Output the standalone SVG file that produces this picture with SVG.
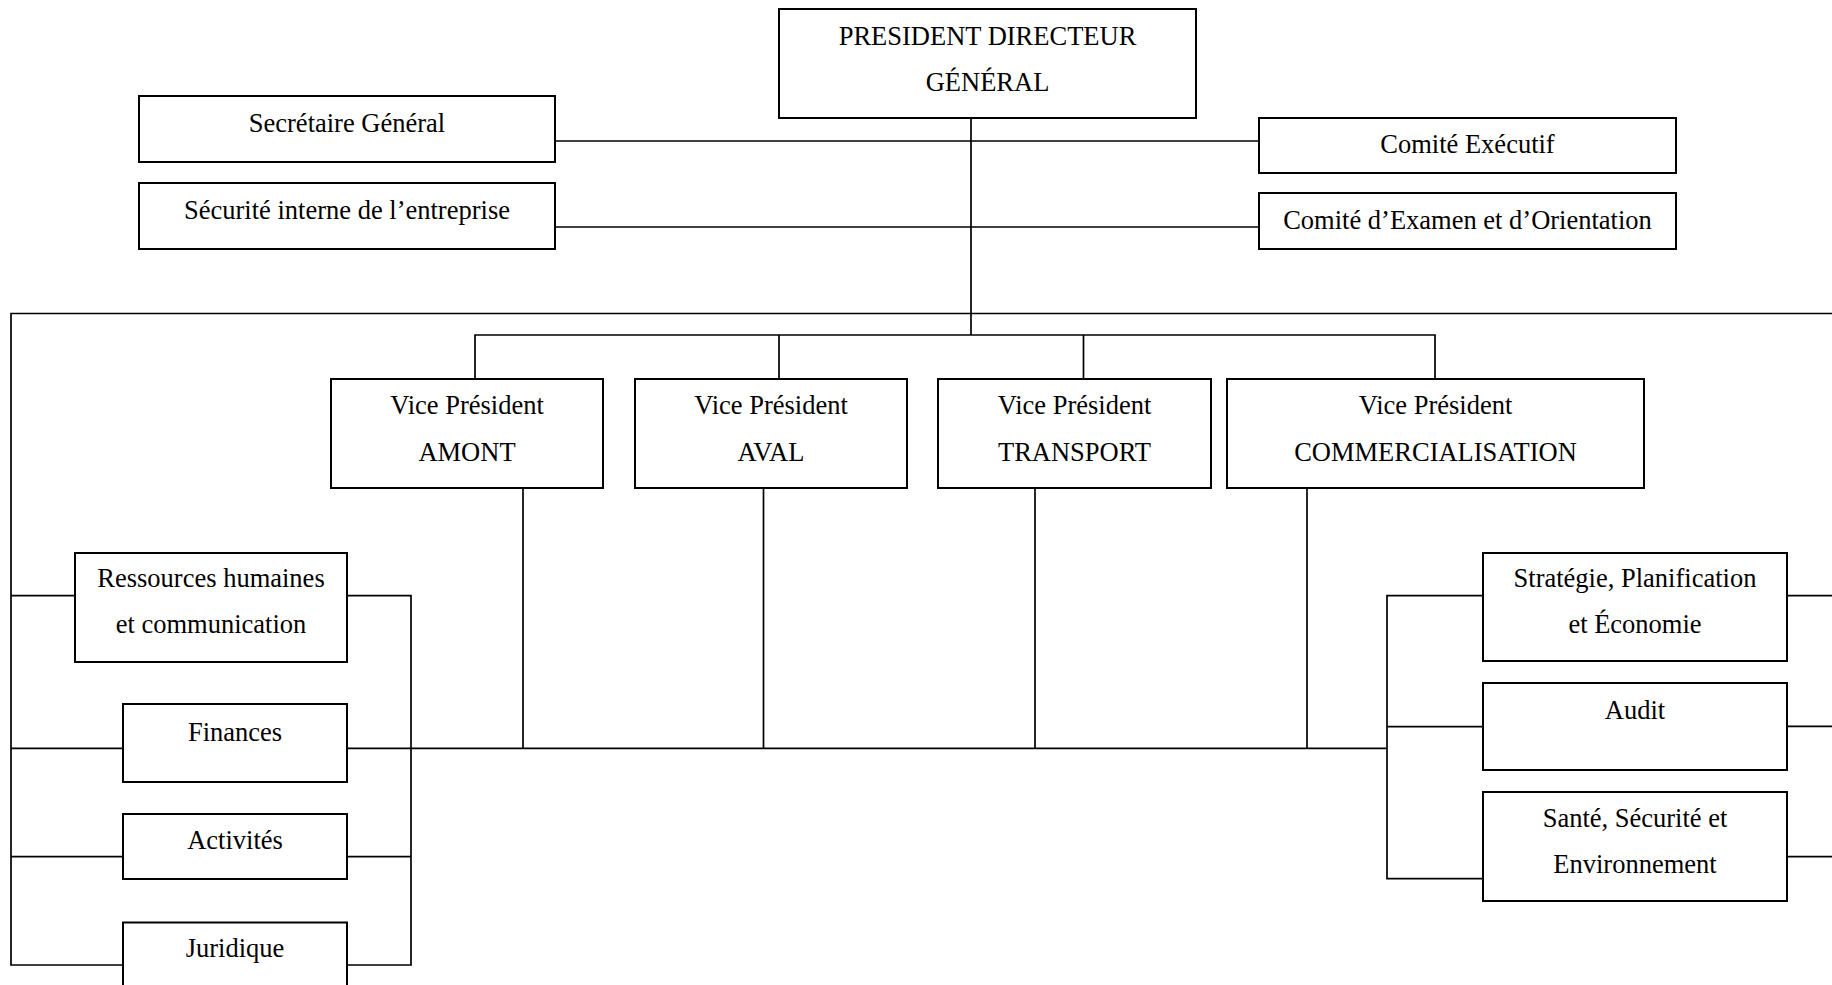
<svg xmlns="http://www.w3.org/2000/svg" width="1832" height="985" viewBox="0 0 1832 985">
  <style>
    .box { fill: #ffffff; stroke: #000000; stroke-width: 2; }
    .lbl { font-family: "Liberation Serif", "Times New Roman", serif; font-size: 26.5px; fill: #000000; text-anchor: middle; }
    .conn { fill: none; stroke: #000000; stroke-width: 1.7; }
  </style>
  <rect width="1832" height="985" fill="#ffffff"/>

  <!-- connectors -->
  <g id="connectors" class="conn">
    <!-- president trunk and staff links -->
    <path d="M971 118 V335"/>
    <path d="M555 141 H1259"/>
    <path d="M555 227 H1259"/>
    <!-- outer frame line feeding the left services -->
    <path d="M1832 313.5 H11 V965 H123"/>
    <path d="M11 595.7 H75"/>
    <path d="M11 748.3 H123"/>
    <path d="M11 856.7 H123"/>
    <!-- vice president bus -->
    <path d="M475 379 V335 H1435 V379"/>
    <path d="M779 335 V379"/>
    <path d="M1083.5 335 V379"/>
    <!-- vice president drops to the lower bus -->
    <path d="M523 488 V748.3"/>
    <path d="M763.5 488 V748.3"/>
    <path d="M1035 488 V748.3"/>
    <path d="M1307 488 V748.3"/>
    <path d="M347 748.3 H1387"/>
    <!-- left services right-hand spine -->
    <path d="M347 595.7 H411 V965 H347"/>
    <path d="M347 856.7 H411"/>
    <!-- right services left-hand spine -->
    <path d="M1483 595.7 H1387 V878.7 H1483"/>
    <path d="M1387 726.7 H1483"/>
    <!-- right services to the outer edge -->
    <path d="M1787 595.7 H1832"/>
    <path d="M1787 726.3 H1832"/>
    <path d="M1787 856.7 H1832"/>
  </g>

  <g id="pdg">
    <rect class="box" x="779" y="9" width="417" height="109"/>
    <text class="lbl" x="987.5" y="44.5">PRESIDENT DIRECTEUR</text>
    <text class="lbl" x="987.5" y="91">GÉNÉRAL</text>
  </g>

  <g id="secretaire-general">
    <rect class="box" x="139" y="96" width="416" height="66"/>
    <text class="lbl" x="347" y="131.5">Secrétaire Général</text>
  </g>

  <g id="securite-interne">
    <rect class="box" x="139" y="183" width="416" height="66"/>
    <text class="lbl" x="347" y="219">Sécurité interne de l’entreprise</text>
  </g>

  <g id="comite-executif">
    <rect class="box" x="1259" y="118" width="417" height="55"/>
    <text class="lbl" x="1467.5" y="152.5">Comité Exécutif</text>
  </g>

  <g id="comite-examen">
    <rect class="box" x="1259" y="193" width="417" height="56"/>
    <text class="lbl" x="1467.5" y="228.5">Comité d’Examen et d’Orientation</text>
  </g>

  <g id="vp-amont">
    <rect class="box" x="331" y="379" width="272" height="109"/>
    <text class="lbl" x="467" y="414">Vice Président</text>
    <text class="lbl" x="467" y="460.5">AMONT</text>
  </g>

  <g id="vp-aval">
    <rect class="box" x="635" y="379" width="272" height="109"/>
    <text class="lbl" x="771" y="414">Vice Président</text>
    <text class="lbl" x="771" y="460.5">AVAL</text>
  </g>

  <g id="vp-transport">
    <rect class="box" x="938" y="379" width="273" height="109"/>
    <text class="lbl" x="1074.5" y="414">Vice Président</text>
    <text class="lbl" x="1074.5" y="460.5">TRANSPORT</text>
  </g>

  <g id="vp-commercialisation">
    <rect class="box" x="1227" y="379" width="417" height="109"/>
    <text class="lbl" x="1435.5" y="414">Vice Président</text>
    <text class="lbl" x="1435.5" y="460.5">COMMERCIALISATION</text>
  </g>

  <g id="ressources-humaines">
    <rect class="box" x="75" y="553" width="272" height="109"/>
    <text class="lbl" x="211" y="587">Ressources humaines</text>
    <text class="lbl" x="211" y="633">et communication</text>
  </g>

  <g id="finances">
    <rect class="box" x="123" y="704" width="224" height="78"/>
    <text class="lbl" x="235" y="741">Finances</text>
  </g>

  <g id="activites">
    <rect class="box" x="123" y="814" width="224" height="65"/>
    <text class="lbl" x="235" y="849">Activités</text>
  </g>

  <g id="juridique">
    <rect class="box" x="123" y="922.5" width="224" height="100"/>
    <text class="lbl" x="235" y="957">Juridique</text>
  </g>

  <g id="strategie">
    <rect class="box" x="1483" y="553" width="304" height="108"/>
    <text class="lbl" x="1635" y="587">Stratégie, Planification</text>
    <text class="lbl" x="1635" y="633">et Économie</text>
  </g>

  <g id="audit">
    <rect class="box" x="1483" y="683" width="304" height="87"/>
    <text class="lbl" x="1635" y="719">Audit</text>
  </g>

  <g id="sante-securite">
    <rect class="box" x="1483" y="792" width="304" height="109"/>
    <text class="lbl" x="1635" y="826.5">Santé, Sécurité et</text>
    <text class="lbl" x="1635" y="872.5">Environnement</text>
  </g>
</svg>
